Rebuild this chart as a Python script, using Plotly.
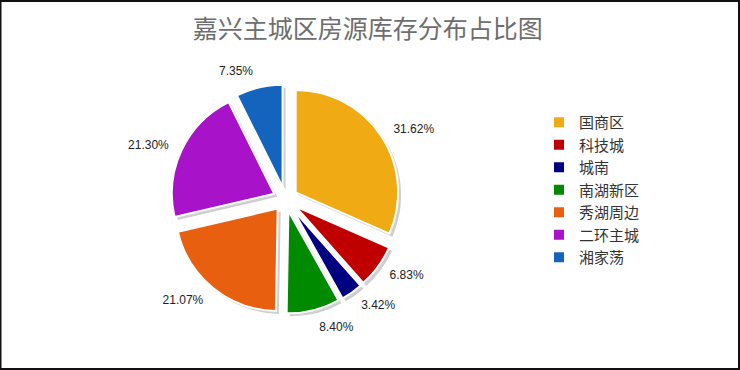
import plotly.graph_objects as go

# Inventory share by district (percent)
districts = ["国商区", "科技城", "城南", "南湖新区", "秀湖周边", "二环主城", "湘家荡"]
shares = [31.62, 6.83, 3.42, 8.40, 21.07, 21.30, 7.35]
colors = ["#F0AA14", "#C00000", "#000080", "#008A00", "#E8600F", "#A812C8", "#1464BE"]

title_text = "嘉兴主城区房源库存分布占比图"

W, H = 740, 370
pull = 0.12

# pie box in pixels
cx, cy, box = 285.4, 199.0, 229.4
# a slightly larger, invisible ring carries the percentage labels
label_box = box + 20


def domain(size, dx=0.0, dy=0.0):
    return dict(
        x=[(cx + dx - size / 2) / W, (cx + dx + size / 2) / W],
        y=[(H - cy - dy - size / 2) / H, (H - cy - dy + size / 2) / H],
    )


# soft drop shadow offset (px)
sx, sy = 3, 3

common = dict(values=shares, sort=False, direction="clockwise", rotation=0,
              pull=[pull] * len(shares))

fig = go.Figure()

# shadow layer under the pie
fig.add_trace(go.Pie(
    labels=[f"_s{i}" for i in range(len(shares))],
    marker=dict(colors=["#cfcfcf"] * len(shares), line=dict(width=0)),
    textinfo="none",
    hoverinfo="skip",
    showlegend=False,
    domain=domain(box, sx, sy),
    **common,
))

# coloured slices
fig.add_trace(go.Pie(
    labels=districts,
    marker=dict(colors=colors, line=dict(color="white", width=2)),
    textinfo="none",
    hoverinfo="label+percent",
    domain=domain(box),
    **common,
))

# percentage labels
fig.add_trace(go.Pie(
    labels=[f"_t{i}" for i in range(len(shares))],
    marker=dict(colors=["rgba(0,0,0,0)"] * len(shares), line=dict(width=0)),
    texttemplate="%{value:.2f}%",
    textposition="outside",
    outsidetextfont=dict(family="Liberation Sans, Arial, sans-serif", size=12, color="#222222"),
    hoverinfo="skip",
    showlegend=False,
    domain=domain(label_box),
    **common,
))

fig.update_layout(
    width=W,
    height=H,
    margin=dict(l=0, r=0, t=0, b=0),
    paper_bgcolor="white",
    plot_bgcolor="white",
    title=dict(
        text=title_text,
        x=0.497,
        xanchor="center",
        y=1 - 29 / H,
        yanchor="middle",
        font=dict(family="Noto Sans CJK SC", size=25, color="#6e6e6e"),
    ),
    legend=dict(
        x=539 / W,
        xanchor="left",
        y=1 - 106 / H,
        yanchor="top",
        font=dict(family="Noto Sans CJK SC", size=15, color="#333333"),
        bgcolor="rgba(0,0,0,0)",
    ),
    shapes=[dict(
        type="rect", xref="paper", yref="paper",
        x0=0.5 / W, x1=1 - 1 / W, y0=1 / H, y1=1 - 1 / H,
        line=dict(color="#111111", width=2),
        fillcolor="rgba(0,0,0,0)",
        layer="above",
    )],
)

fig.write_html("out.html")
